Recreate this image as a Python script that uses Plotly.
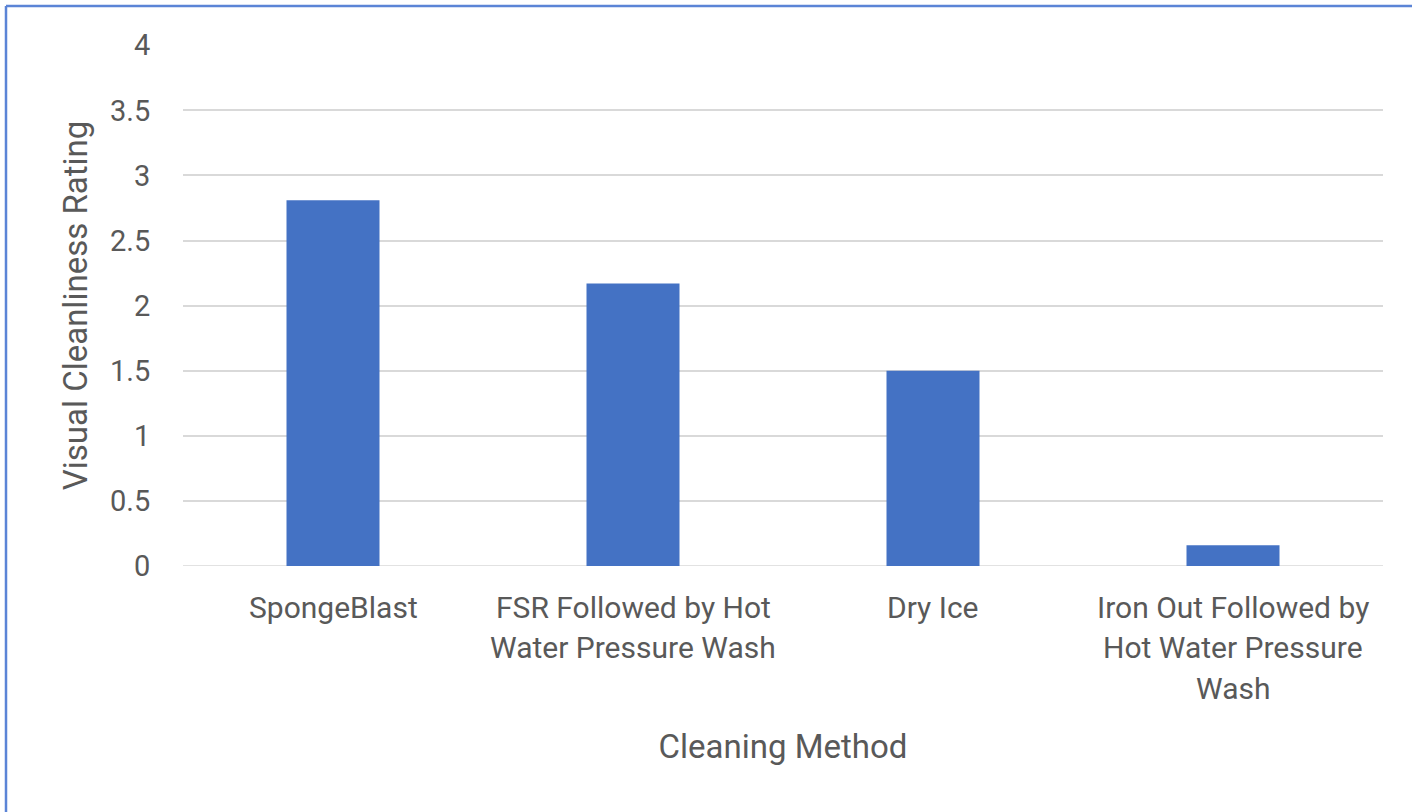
import plotly.graph_objects as go

categories = ["SpongeBlast", "FSR Followed by Hot Water Pressure Wash", "Dry Ice",
              "Iron Out Followed by Hot Water Pressure Wash"]
label_lines = [["SpongeBlast"],
               ["FSR Followed by Hot", "Water Pressure Wash"],
               ["Dry Ice"],
               ["Iron Out Followed by", "Hot Water Pressure", "Wash"]]
values = [2.81, 2.17, 1.5, 0.16]
y_ticks = [0, 0.5, 1, 1.5, 2, 2.5, 3, 3.5, 4]
y_ticktext = ["0", "0.5", "1", "1.5", "2", "2.5", "3", "3.5", "4"]

FONT = "Roboto"
TXT = "#595959"

fig = go.Figure()
fig.add_trace(go.Bar(x=categories, y=values, marker=dict(color="#4472C4", line=dict(width=0)),
                     width=0.31))

annotations = []
for cat, lines in zip(categories, label_lines):
    for i, ln in enumerate(lines):
        annotations.append(dict(x=cat, xref="x", y=0, yref="paper", text=ln, showarrow=False,
                                yanchor="middle", xanchor="center", yshift=-41 - 40.5 * i,
                                font=dict(family=FONT, size=30, color=TXT)))

fig.update_layout(
    width=1412, height=812,
    margin=dict(l=183, r=29, t=45, b=246),
    paper_bgcolor="white", plot_bgcolor="white",
    showlegend=False,
    annotations=annotations,
    xaxis=dict(showticklabels=False, showgrid=False, zeroline=False, showline=False,
               title=dict(text="Cleaning Method", font=dict(family=FONT, size=33, color=TXT),
                          standoff=168)),
    yaxis=dict(range=[0, 4.002], tickvals=y_ticks, ticktext=y_ticktext,
               showgrid=True, gridcolor="#D9D9D9", gridwidth=1.5,
               zeroline=False, showline=False,
               ticks="outside", ticklen=26, tickcolor="rgba(0,0,0,0)",
               tickfont=dict(family=FONT, size=29, color=TXT),
               title=dict(text="Visual Cleanliness Rating", font=dict(family=FONT, size=33, color=TXT),
                          standoff=12)),
    shapes=[dict(type="line", xref="paper", yref="paper", x0=(6 - 183) / 1200, x1=(1420 - 183) / 1200,
                 y0=(566 - 6) / 521, y1=(566 - 6) / 521, line=dict(color="#5B84D6", width=2.5)),
            dict(type="line", xref="paper", yref="paper", x0=(6 - 183) / 1200, x1=(6 - 183) / 1200,
                 y0=(566 - 6) / 521, y1=(566 - 820) / 521, line=dict(color="#5B84D6", width=2.5)),
            dict(type="line", xref="paper", yref="y", x0=0, x1=1, y0=0, y1=0,
                 line=dict(color="#D9D9D9", width=1.5), layer="below")],
)
fig.update_xaxes(automargin=False)
fig.update_yaxes(automargin=False)

fig.write_html("out.html", config={"displayModeBar": False},
               post_script="document.body.style.margin='0';")
